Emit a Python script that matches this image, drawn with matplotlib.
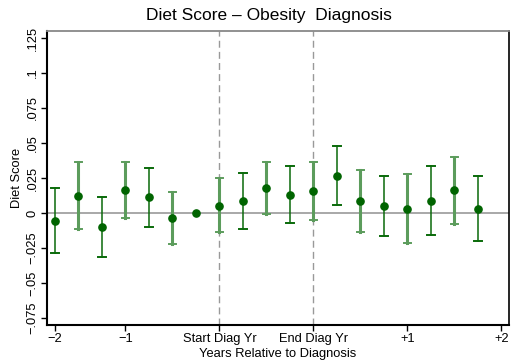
import numpy as np
import matplotlib
matplotlib.use("Agg")
import matplotlib.pyplot as plt

plt.rcParams['font.family'] = ['Liberation Sans', 'DejaVu Sans']

# estimates by period (quarters around diagnosis)
period = np.arange(19)
coef = [-0.0055, 0.0124, -0.0100, 0.0164, 0.0112, -0.0038, 0.0, 0.0052, 0.0083, 0.0176,
        0.0129, 0.0155, 0.0267, 0.0086, 0.0052, 0.0031, 0.0088, 0.0162, 0.0031]
ci_hi = [0.0178, 0.0362, 0.0117, 0.0362, 0.0319, 0.0148, 0.0, 0.0248, 0.0283, 0.0362,
         0.0336, 0.0362, 0.0479, 0.0310, 0.0267, 0.0279, 0.0336, 0.0402, 0.0267]
ci_lo = [-0.0288, -0.0114, -0.0317, -0.0038, -0.0098, -0.0219, 0.0, -0.0138, -0.0114, -0.0009,
         -0.0074, -0.0052, 0.0057, -0.0138, -0.0162, -0.0212, -0.0155, -0.0076, -0.0198]

xtick_pos = [0, 3, 7, 11, 15, 19]
xtick_lab = ["\u22122", "\u22121", "Start Diag Yr", "End Diag Yr", "+1", "+2"]
ytick_vals = [-0.075, -0.05, -0.025, 0, 0.025, 0.05, 0.075, 0.1, 0.125]
ytick_lab = ["\u2212.075", "\u2212.05", "\u2212.025", "0", ".025", ".05", ".075", ".1", ".125"]

fig = plt.figure(figsize=(5.11, 3.64), dpi=100)
ax = fig.add_axes([47/511, 39/364, 462/511, 294/364])

ax.axhline(0, color="#999999", lw=1.2, zorder=1)
for xv in [7, 11]:
    ax.axvline(xv, color="#999999", lw=1.0, ls=(0, (5, 3)), zorder=1)

for i in period:
    if i == 6:
        continue
    if i % 2 == 1:
        col, lw = "#5c9c5c", 2.2
    else:
        col, lw = "#0a6a0a", 1.1
    ax.plot([i, i], [ci_lo[i], ci_hi[i]], color=col, lw=lw, zorder=2)
    ax.plot([i - 0.16, i + 0.16], [ci_hi[i], ci_hi[i]], color=col, lw=1.4, zorder=2)
    ax.plot([i - 0.16, i + 0.16], [ci_lo[i], ci_lo[i]], color=col, lw=1.4, zorder=2)

ax.scatter(period, coef, s=27, color="#006400", zorder=3)

ax.set_xlim(-0.34, 19.32)
ax.set_ylim(-0.08, 0.13)
ax.set_xticks(xtick_pos)
ax.set_xticklabels(xtick_lab, fontsize=9.3)
ax.set_yticks(ytick_vals)
ax.set_yticklabels(ytick_lab, fontsize=9.3, rotation=90, va="center")
ax.tick_params(direction="out", length=4, width=1, pad=2)

ax.spines["left"].set_linewidth(1.5)
ax.spines["bottom"].set_linewidth(1.5)
ax.spines["top"].set_color("#888888")
ax.spines["top"].set_linewidth(1.3)
ax.spines["right"].set_linewidth(1.2)

ax.set_title("Diet Score \u2013 Obesity  Diagnosis", fontsize=12.5, pad=8, x=0.48)
ax.set_xlabel("Years Relative to Diagnosis", fontsize=9.3, labelpad=2)
ax.set_ylabel("Diet Score", fontsize=9.3, labelpad=3)

fig.savefig("out.png", dpi=100)
